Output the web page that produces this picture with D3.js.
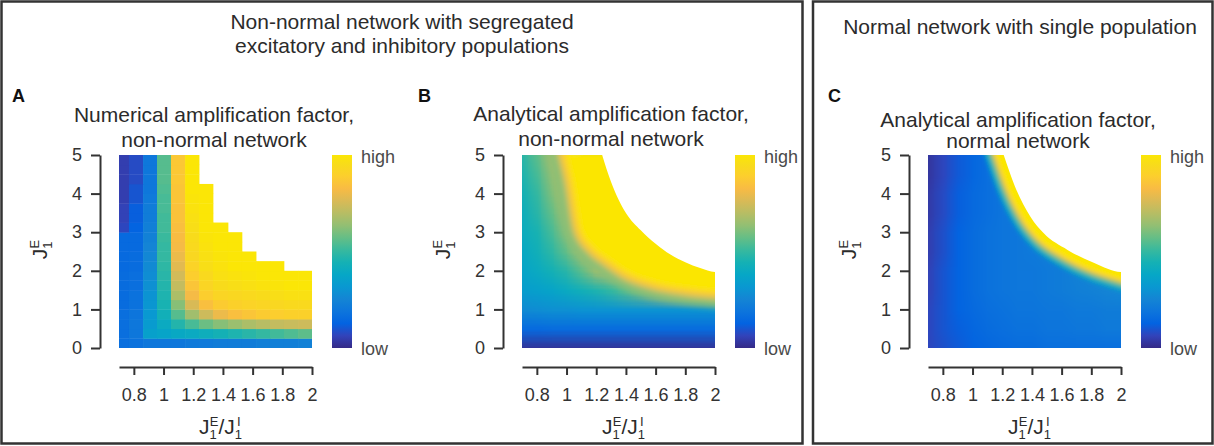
<!DOCTYPE html>
<html>
<head>
<meta charset="utf-8">
<script src="https://cdn.jsdelivr.net/npm/d3@7"></script>
<style>
  body { margin: 0; background: #fff; }
  svg { display: block; font-family: "Liberation Sans", Arial, sans-serif; }
</style>
</head>
<body>
<div id="chart"></div>
<script>
// ---- data ----
var ratioTicks = [0.8, 1, 1.2, 1.4, 1.6, 1.8, 2];
var jeTicks = [0, 1, 2, 3, 4, 5];

// panel A: simulated grid (column edges in J1E/J1I, row edges in J1E), null = unstable
var ratioEdgesA = [0.7, 0.767, 0.862, 0.956, 1.05, 1.145, 1.239, 1.333, 1.434, 1.528, 1.623, 1.717, 1.811, 1.906, 2.0];
var jeEdgesA = [0, 0.25, 0.5, 0.75, 1, 1.25, 1.5, 1.75, 2, 2.25, 2.5, 2.75, 3, 3.25, 3.5, 3.75, 4, 4.25, 4.5, 4.75, 5];
// rows bottom (J1E 0-0.25) to top (4.75-5), values are colormap positions 0 (low) .. 1 (high)
var ampA = [
  [0.17, 0.18, 0.20, 0.20, 0.20, 0.21, 0.21, 0.22, 0.22, 0.22, 0.23, 0.23, 0.23, 0.24],
  [0.17, 0.20, 0.35, 0.37, 0.39, 0.40, 0.42, 0.44, 0.46, 0.48, 0.50, 0.52, 0.54, 0.56],
  [0.17, 0.20, 0.33, 0.40, 0.47, 0.53, 0.58, 0.62, 0.65, 0.68, 0.70, 0.72, 0.73, 0.74],
  [0.17, 0.19, 0.32, 0.43, 0.55, 0.66, 0.74, 0.80, 0.84, 0.86, 0.88, 0.89, 0.90, 0.90],
  [0.16, 0.18, 0.31, 0.45, 0.62, 0.76, 0.84, 0.88, 0.90, 0.91, 0.92, 0.93, 0.94, 0.94],
  [0.16, 0.18, 0.30, 0.46, 0.68, 0.82, 0.89, 0.92, 0.93, 0.94, 0.95, 0.96, 0.97, 0.97],
  [0.16, 0.17, 0.29, 0.47, 0.72, 0.86, 0.92, 0.95, 0.96, 0.97, 0.98, 0.99, 1.00, 1.00],
  [0.16, 0.17, 0.28, 0.48, 0.75, 0.89, 0.94, 0.97, 0.98, 0.99, 1.00, 1.00, 1.00, 1.00],
  [0.15, 0.16, 0.27, 0.49, 0.78, 0.91, 0.96, 0.98, 1.00, 1.00, 1.00, 1.00, null, null],
  [0.15, 0.16, 0.26, 0.50, 0.80, 0.93, 0.97, 0.99, 1.00, 1.00, null, null, null, null],
  [0.15, 0.15, 0.25, 0.50, 0.82, 0.94, 0.98, 1.00, 1.00, null, null, null, null, null],
  [0.15, 0.15, 0.24, 0.51, 0.83, 0.95, 0.99, 1.00, 1.00, null, null, null, null, null],
  [0.07, 0.13, 0.23, 0.52, 0.84, 0.96, 1.00, 1.00, null, null, null, null, null, null],
  [0.06, 0.12, 0.22, 0.52, 0.85, 0.97, 1.00, null, null, null, null, null, null, null],
  [0.06, 0.12, 0.22, 0.53, 0.85, 0.98, 1.00, null, null, null, null, null, null, null],
  [0.05, 0.10, 0.21, 0.53, 0.86, 0.99, 1.00, null, null, null, null, null, null, null],
  [0.05, 0.10, 0.20, 0.54, 0.86, 1.00, 1.00, null, null, null, null, null, null, null],
  [0.05, 0.08, 0.20, 0.55, 0.87, 1.00, null, null, null, null, null, null, null, null],
  [0.05, 0.08, 0.20, 0.55, 0.87, 1.00, null, null, null, null, null, null, null, null],
  [0.05, 0.08, 0.20, 0.55, 0.87, 1.00, null, null, null, null, null, null, null, null]
];

// panels B and C: analytical values sampled at grid points (rows bottom to top)
var ratioGrid = [0.7, 0.8, 0.9, 1.0, 1.1, 1.2, 1.3, 1.4, 1.5, 1.6, 1.7, 1.8, 1.9, 2.0];
var jeGrid = [0, 0.5, 1, 1.5, 2, 2.5, 3, 3.5, 4, 4.5, 5];
var ampB = [
  [0.02, 0.02, 0.02, 0.02, 0.02, 0.02, 0.02, 0.02, 0.02, 0.02, 0.02, 0.02, 0.02, 0.02],
  [0.15, 0.15, 0.16, 0.16, 0.16, 0.16, 0.16, 0.16, 0.16, 0.16, 0.16, 0.16, 0.16, 0.16],
  [0.27, 0.28, 0.29, 0.29, 0.30, 0.30, 0.30, 0.30, 0.30, 0.30, 0.30, 0.30, 0.30, 0.30],
  [0.34, 0.35, 0.37, 0.40, 0.43, 0.46, 0.50, 0.55, 0.60, 0.66, 0.70, 0.70, 0.70, 0.70],
  [0.37, 0.40, 0.44, 0.48, 0.56, 0.66, 0.70, 0.70, 0.70, 0.70, 0.70, 0.70, 0.70, 0.70],
  [0.39, 0.43, 0.49, 0.57, 0.68, 0.70, 0.70, 0.70, 0.70, 0.70, 0.70, 0.70, 0.70, 0.70],
  [0.41, 0.45, 0.53, 0.63, 0.70, 0.70, 0.70, 0.70, 0.70, 0.70, 0.70, 0.70, 0.70, 0.70],
  [0.42, 0.48, 0.57, 0.68, 0.70, 0.70, 0.70, 0.70, 0.70, 0.70, 0.70, 0.70, 0.70, 0.70],
  [0.44, 0.50, 0.61, 0.70, 0.70, 0.70, 0.70, 0.70, 0.70, 0.70, 0.70, 0.70, 0.70, 0.70],
  [0.46, 0.53, 0.64, 0.70, 0.70, 0.70, 0.70, 0.70, 0.70, 0.70, 0.70, 0.70, 0.70, 0.70],
  [0.48, 0.56, 0.68, 0.70, 0.70, 0.70, 0.70, 0.70, 0.70, 0.70, 0.70, 0.70, 0.70, 0.70]
];
var ampC = [
  [0.07, 0.09, 0.11, 0.13, 0.14, 0.15, 0.16, 0.16, 0.17, 0.17, 0.17, 0.17, 0.17, 0.17],
  [0.07, 0.10, 0.12, 0.14, 0.16, 0.17, 0.18, 0.18, 0.19, 0.19, 0.20, 0.20, 0.21, 0.21],
  [0.07, 0.10, 0.13, 0.15, 0.17, 0.18, 0.19, 0.19, 0.20, 0.20, 0.21, 0.21, 0.22, 0.22],
  [0.06, 0.10, 0.13, 0.16, 0.18, 0.19, 0.20, 0.20, 0.21, 0.22, 0.23, 0.24, 0.25, 0.26],
  [0.06, 0.10, 0.13, 0.16, 0.18, 0.19, 0.20, 0.20, 0.21, 0.22, 0.24, 0.26, 0.28, 0.30],
  [0.05, 0.09, 0.13, 0.16, 0.18, 0.19, 0.20, 0.21, 0.22, 0.24, 0.26, 0.28, 0.30, 0.30],
  [0.05, 0.09, 0.13, 0.16, 0.18, 0.19, 0.20, 0.21, 0.23, 0.25, 0.28, 0.30, 0.30, 0.30],
  [0.04, 0.08, 0.12, 0.15, 0.17, 0.19, 0.20, 0.22, 0.25, 0.28, 0.30, 0.30, 0.30, 0.30],
  [0.04, 0.08, 0.12, 0.15, 0.17, 0.19, 0.21, 0.24, 0.28, 0.30, 0.30, 0.30, 0.30, 0.30],
  [0.03, 0.07, 0.11, 0.14, 0.17, 0.20, 0.23, 0.27, 0.30, 0.30, 0.30, 0.30, 0.30, 0.30],
  [0.03, 0.07, 0.11, 0.14, 0.17, 0.21, 0.25, 0.30, 0.30, 0.30, 0.30, 0.30, 0.30, 0.30]
];

// edge of the unstable (white) region: J1E where it starts, per J1E/J1I
var edgeRatioB = [1.24, 1.30, 1.35, 1.40, 1.50, 1.60, 1.70, 1.80, 1.90, 2.00];
var edgeJeB = [5.0, 4.3, 3.85, 3.5, 3.05, 2.7, 2.42, 2.22, 2.07, 1.97];
var edgeRatioC = [1.21, 1.285, 1.39, 1.48, 1.64, 1.82, 2.0];
var edgeJeC = [5.0, 4.19, 3.4, 2.97, 2.54, 2.2, 1.97];
// where panel B saturates at "high"
var highRatioB = [0.99, 1.03, 1.09, 1.17, 1.275, 1.4, 1.59, 1.8, 2.0];
var highJeB = [5.0, 4.35, 3.06, 2.6, 2.28, 1.95, 1.68, 1.53, 1.45];
// colour levels of the fringe just below saturation (B) and of the thin band along the edge (C), outer to inner
var fringeLevelsB = [0.62, 0.86];
var bandLevelsC = [0.4, 0.62, 0.88, 1.0];

// parula colormap (top slightly warmed to match the print)
var parulaPos = [0, 4, 8, 12, 16, 20, 24, 28, 32, 36, 40, 44, 48, 52, 56, 60, 63].map(function(i) { return i / 63; });
var parulaCol = ["#352a87", "#3243ba", "#0363e1", "#0d75dc", "#1485d4", "#0998d1", "#06a7c6", "#15b1b4",
                 "#38b99e", "#65be86", "#92bf73", "#b7bd64", "#d9ba56", "#f8bb44", "#fcce2e", "#f8dc1a", "#fbe606"];
var parula = d3.scaleLinear().domain(parulaPos).range(parulaCol).interpolate(d3.interpolateRgb).clamp(true);

// ---- layout ----
var W = 1214, H = 446;
var side = 193, plotTop = 155;
var ink = "#2b2b2b";

var svg = d3.select("#chart").append("svg").attr("width", W).attr("height", H);
var defs = svg.append("defs");

// outer frames
svg.append("rect").attr("x", 1.5).attr("y", 1.5).attr("width", 801).attr("height", 442)
   .attr("fill", "none").attr("stroke", "#333").attr("stroke-width", 2.5);
svg.append("rect").attr("x", 813).attr("y", 1.5).attr("width", 399.5).attr("height", 442)
   .attr("fill", "none").attr("stroke", "#333").attr("stroke-width", 2.5);

function lines(x, ys, txt, size) {
  ys.forEach(function(yy, i) {
    svg.append("text").attr("x", x).attr("y", yy).attr("text-anchor", "middle")
       .attr("font-size", size).attr("fill", ink).text(txt[i]);
  });
}
lines(402, [29, 53], ["Non-normal network with segregated", "excitatory and inhibitory populations"], 21);
lines(1020, [34], ["Normal network with single population"], 21);

// colorbar gradient
var grad = defs.append("linearGradient").attr("id", "cbar")
   .attr("x1", 0).attr("y1", 1).attr("x2", 0).attr("y2", 0);
parulaPos.forEach(function(p, i) {
  grad.append("stop").attr("offset", p).attr("stop-color", parulaCol[i]);
});

function blur(id, sd) {
  defs.append("filter").attr("id", id).attr("x", "-20%").attr("y", "-20%").attr("width", "140%").attr("height", "140%")
     .append("feGaussianBlur").attr("stdDeviation", sd);
}
blur("soft", 2.2);
blur("softer", 3.2);

function jLabel(t, sup, sub2) {
  t.append("tspan").text("J");
  t.append("tspan").attr("dy", 5).attr("font-size", 13).text("1");
  t.append("tspan").attr("dx", -7).attr("dy", -13).attr("font-size", 13).text(sup);
  if (sub2) {
    t.append("tspan").attr("dy", 8).text("/J");
    t.append("tspan").attr("dy", 5).attr("font-size", 13).text("1");
    t.append("tspan").attr("dx", -5).attr("dy", -13).attr("font-size", 13).text(sub2);
  }
}

function gridImage(g, x, y, values) {
  var nx = ratioGrid.length, ny = jeGrid.length;
  var canvas = document.createElement("canvas");
  canvas.width = nx; canvas.height = ny;
  var ctx = canvas.getContext("2d");
  var img = ctx.createImageData(nx, ny);
  for (var r = 0; r < ny; r++) {
    for (var c = 0; c < nx; c++) {
      var col = d3.rgb(parula(values[ny - 1 - r][c]));
      var k = (r * nx + c) * 4;
      img.data[k] = col.r; img.data[k + 1] = col.g; img.data[k + 2] = col.b; img.data[k + 3] = 255;
    }
  }
  ctx.putImageData(img, 0, 0);
  var dx = (ratioGrid[1] - ratioGrid[0]) / 2, dy = (jeGrid[1] - jeGrid[0]) / 2;
  g.append("image").attr("href", canvas.toDataURL())
    .attr("x", x(ratioGrid[0] - dx)).attr("y", y(jeGrid[ny - 1] + dy))
    .attr("width", x(ratioGrid[nx - 1] + dx) - x(ratioGrid[0] - dx))
    .attr("height", y(jeGrid[0] - dy) - y(jeGrid[ny - 1] + dy))
    .attr("preserveAspectRatio", "none");
}

var panels = [
  { id: "A", x0: 119, labelX: 12, titleX: 214, titleY: [122, 147],
    title: ["Numerical amplification factor,", "non-normal network"], kind: "cells" },
  { id: "B", x0: 522, labelX: 418, titleX: 611, titleY: [121, 146],
    title: ["Analytical amplification factor,", "non-normal network"], kind: "grid",
    values: ampB, edgeX: edgeRatioB, edgeY: edgeJeB,
    highX: highRatioB, highY: highJeB, fringe: fringeLevelsB },
  { id: "C", x0: 928, labelX: 828, titleX: 1018, titleY: [127, 148],
    title: ["Analytical amplification factor,", "normal network"], kind: "grid",
    values: ampC, edgeX: edgeRatioC, edgeY: edgeJeC, band: bandLevelsC }
];

panels.forEach(function(p) {
  var x = d3.scaleLinear().domain([0.7, 2]).range([p.x0, p.x0 + side]);
  var y = d3.scaleLinear().domain([0, 5]).range([plotTop + side, plotTop]);
  var line = d3.line().x(function(d) { return x(d[0]); }).y(function(d) { return y(d[1]); })
     .curve(d3.curveMonotoneX);
  var area = d3.area().x(function(d) { return x(d[0]); })
     .y0(y(5) - 4).y1(function(d) { return y(d[1]); }).curve(d3.curveMonotoneX);
  function pairs(xs, ys) { return xs.map(function(v, i) { return [v, ys[i]]; }); }

  svg.append("text").attr("x", p.labelX).attr("y", 102).attr("font-size", 18)
     .attr("font-weight", "bold").attr("fill", "#111").text(p.id);
  lines(p.titleX, p.titleY, p.title, 21);

  defs.append("clipPath").attr("id", "clip" + p.id)
     .append("rect").attr("x", p.x0).attr("y", plotTop).attr("width", side).attr("height", side);
  var g = svg.append("g").attr("clip-path", "url(#clip" + p.id + ")");

  if (p.kind === "cells") {
    var cells = [];
    ampA.forEach(function(row, i) {
      row.forEach(function(v, j) {
        if (v == null) return;
        cells.push({ x0: ratioEdgesA[j], x1: ratioEdgesA[j + 1], y0: jeEdgesA[i], y1: jeEdgesA[i + 1], v: v });
      });
    });
    g.selectAll("rect.cell").data(cells).enter().append("rect").attr("class", "cell")
      .attr("x", function(d) { return x(d.x0); })
      .attr("y", function(d) { return y(d.y1); })
      .attr("width", function(d) { return x(d.x1) - x(d.x0) + 0.4; })
      .attr("height", function(d) { return y(d.y0) - y(d.y1) + 0.4; })
      .attr("fill", function(d) { return parula(d.v); });
    return finish(p, x, y);
  }

  gridImage(g, x, y, p.values);
  var edge = pairs(p.edgeX, p.edgeY);

  if (p.highX) {
    // saturated zone with a soft orange/green fringe
    var high = pairs(p.highX, p.highY);
    var hg = g.append("g").attr("filter", "url(#softer)");
    var fw = [30, 13];
    p.fringe.forEach(function(t, i) {
      hg.append("path").attr("d", line(high)).attr("fill", "none")
        .attr("stroke", parula(t)).attr("stroke-width", fw[i]).attr("stroke-linecap", "square");
    });
    hg.append("path").attr("d", area(high.concat([[2.1, high[high.length - 1][1]]])))
      .attr("fill", parula(1));
  }
  if (p.band) {
    var bg = g.append("g").attr("filter", "url(#soft)");
    var widths = [36, 27, 20, 14];
    p.band.forEach(function(t, i) {
      bg.append("path").attr("d", line(edge)).attr("fill", "none")
        .attr("stroke", parula(t)).attr("stroke-width", widths[i]).attr("stroke-linecap", "square");
    });
  }
  g.append("path").attr("d", area(edge.concat([[2.05, edge[edge.length - 1][1]]])))
    .attr("fill", "#fff");
  finish(p, x, y);
});

function finish(p, x, y) {
  // axes
  var ax = svg.append("g").attr("transform", "translate(0," + (plotTop + side + 19) + ")")
    .call(d3.axisBottom(x).tickValues(ratioTicks).tickSize(8).tickSizeOuter(0).tickPadding(13)
      .tickFormat(function(d) { return String(d); }));
  var ay = svg.append("g").attr("transform", "translate(" + (p.x0 - 19) + ",0)")
    .call(d3.axisLeft(y).tickValues(jeTicks).tickSize(9).tickSizeOuter(0).tickPadding(9)
      .tickFormat(function(d) { return String(d); }));
  [ax, ay].forEach(function(a) {
    a.attr("font-family", null).attr("font-size", 18);
    a.selectAll("path, line").attr("stroke", "#333").attr("stroke-width", 2);
    a.selectAll("text").attr("fill", "#333");
  });

  // axis titles
  var xt = svg.append("text").attr("x", p.x0 + side / 2 + 5).attr("y", 434)
     .attr("text-anchor", "middle").attr("font-size", 21).attr("fill", ink);
  jLabel(xt, "E", "I");
  var yt = svg.append("text").attr("transform", "translate(" + (p.x0 - 72) + "," + (plotTop + side / 2 - 2) + ") rotate(-90)")
     .attr("text-anchor", "middle").attr("font-size", 21).attr("fill", ink);
  jLabel(yt, "E");

  // colorbar
  var cx = p.x0 + side + 20;
  svg.append("rect").attr("x", cx).attr("y", plotTop).attr("width", 20).attr("height", side)
     .attr("fill", "url(#cbar)");
  svg.append("text").attr("x", cx + 29).attr("y", plotTop + 2).attr("dominant-baseline", "central")
     .attr("font-size", 18).attr("fill", "#4a4a4a").text("high");
  svg.append("text").attr("x", cx + 29).attr("y", plotTop + side + 1).attr("dominant-baseline", "central")
     .attr("font-size", 18).attr("fill", "#4a4a4a").text("low");
}
</script>
</body>
</html>
